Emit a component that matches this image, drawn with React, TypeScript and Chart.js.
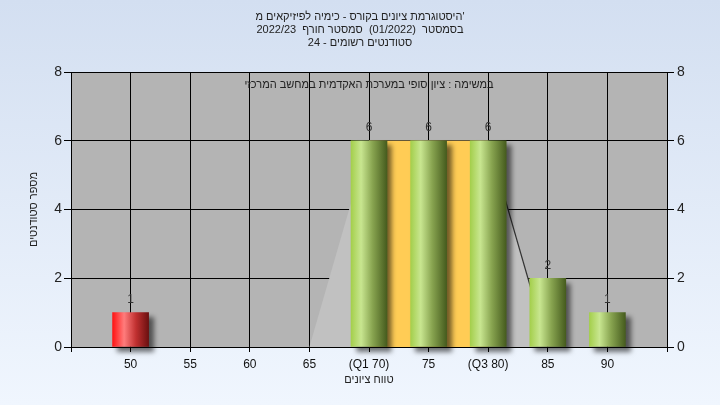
import React, { useEffect, useRef } from "react";
import { Chart, registerables } from "chart.js";

Chart.register(...registerables);

// ---- data ----
const categories = [50, 55, 60, 65, 70, 75, 80, 85, 90];
const counts = [1, 0, 0, 0, 6, 6, 6, 2, 1];
const xTickValues = [45, 50, 55, 60, 65, 70, 75, 80, 85, 90, 95];
const xTickLabels = ["", "50", "55", "60", "65", "(Q1 70)", "75", "(Q3 80)", "85", "90", ""];
const bandX = [70, 80];
const bandY = [6, 6];
const curveX = [65, 70, 80, 85];
const curveY = [0, 6, 6, 0];
const titleLines = [
  "היסטוגרמת ציונים בקורס - כימיה לפיזיקאים מ'",
  "בסמסטר  (01/2022)  סמסטר חורף  2022/23",
  "סטודנטים רשומים - 24",
];
const innerTitle = "במשימה : ציון סופי במערכת האקדמית במחשב המרכזי";
const yTitle = "מספר סטודנטים";
const xTitle = "טווח ציונים";

const FONT = "'Liberation Sans', Arial, 'DejaVu Sans', sans-serif";

export default function App() {
  const ref = useRef<HTMLCanvasElement>(null);

  useEffect(() => {
    document.body.style.margin = "0";
    document.body.style.overflow = "hidden";
    const canvas = ref.current!;

    const bgPlugin = {
      id: "bgPlugin",
      beforeDraw(chart: any) {
        const { ctx, width, height, chartArea } = chart;
        ctx.save();
        const g = ctx.createLinearGradient(0, 0, 0, height);
        g.addColorStop(0, "#d3dff1");
        g.addColorStop(1, "#f0f6fe");
        ctx.fillStyle = g;
        ctx.fillRect(0, 0, width, height);
        ctx.fillStyle = "#b4b4b4";
        ctx.fillRect(chartArea.left, chartArea.top, chartArea.right - chartArea.left, chartArea.bottom - chartArea.top);
        ctx.restore();
      },
      beforeDatasetsDraw(chart: any) {
        const { ctx, chartArea } = chart;
        ctx.save();
        ctx.font = `11px ${FONT}`;
        ctx.fillStyle = "#222";
        ctx.textAlign = "center";
        ctx.textBaseline = "middle";
        ctx.fillText(innerTitle, (chartArea.left + chartArea.right) / 2, chartArea.top + 13);
        ctx.restore();
      },
      beforeDatasetDraw(chart: any, args: any) {
        if (args.index === 0) {
          const ctx = chart.ctx;
          ctx.save();
          ctx.shadowColor = "rgba(0,0,0,0.55)";
          ctx.shadowBlur = 5;
          ctx.shadowOffsetX = 5;
          ctx.shadowOffsetY = 5;
        }
      },
      afterDatasetDraw(chart: any, args: any) {
        if (args.index === 0) chart.ctx.restore();
      },
      afterDatasetsDraw(chart: any) {
        const { ctx } = chart;
        const meta = chart.getDatasetMeta(0);
        ctx.save();
        ctx.font = `12px ${FONT}`;
        ctx.fillStyle = "#333";
        ctx.textAlign = "center";
        ctx.textBaseline = "middle";
        meta.data.forEach((el: any, i: number) => {
          if (counts[i] > 0) ctx.fillText(String(counts[i]), el.x, el.y - 13);
        });
        ctx.restore();
      },
    };

    const barColor = (c: any) => {
      const chart = c.chart;
      const xs = chart.scales && chart.scales.x;
      const v = categories[c.dataIndex];
      const red = v < 55;
      const fallback = red ? "#f22" : "#9c4";
      if (!xs || c.type !== "data" || v === undefined) return fallback;
      const px = xs.getPixelForValue(v);
      if (!isFinite(px)) return fallback;
      const g = chart.ctx.createLinearGradient(px - 18, 0, px + 18, 0);
      if (red) {
        g.addColorStop(0, "#ff1414");
        g.addColorStop(0.32, "#ff7c7c");
        g.addColorStop(0.65, "#c03030");
        g.addColorStop(1, "#6c1010");
      } else {
        g.addColorStop(0, "#a4cf4c");
        g.addColorStop(0.28, "#c8e690");
        g.addColorStop(0.6, "#88a450");
        g.addColorStop(1, "#465c1e");
      }
      return g;
    };

    const chart = new Chart(canvas, {
      type: "bar",
      data: {
        datasets: [
          {
            type: "bar",
            data: categories.map((x, i) => ({ x, y: counts[i] > 0 ? counts[i] : null })),
            backgroundColor: barColor,
            borderWidth: 0,
            barThickness: 36,
            order: 0,
            clip: false,
            yAxisID: "y",
          } as any,
          {
            type: "line",
            data: bandX.map((x, i) => ({ x, y: bandY[i] })),
            backgroundColor: "#ffcc55",
            borderWidth: 0,
            borderColor: "rgba(0,0,0,0)",
            pointRadius: 0,
            fill: "origin",
            order: 1,
            yAxisID: "y",
          } as any,
          {
            type: "line",
            data: curveX.map((x, i) => ({ x, y: curveY[i] })),
            backgroundColor: "#c1c1c1",
            borderWidth: 1.2,
            borderColor: "rgba(0,0,0,0)",
            segment: {
              borderColor: (s: any) => (s.p0.parsed.x === 80 ? "#333" : "rgba(0,0,0,0)"),
            },
            pointRadius: 0,
            fill: "origin",
            order: 2,
            yAxisID: "y",
          } as any,
        ],
      },
      options: {
        animation: false,
        responsive: false,
        maintainAspectRatio: false,
        layout: { padding: 0 },
        plugins: {
          legend: { display: false },
          tooltip: { enabled: false },
          title: {
            display: true,
            text: titleLines,
            color: "#222",
            font: { family: FONT, size: 11, weight: "normal", lineHeight: "13px" } as any,
            padding: { top: 10, bottom: 23 },
          },
        },
        scales: {
          x: {
            type: "linear",
            min: 45,
            max: 95,
            offset: false,
            afterBuildTicks: (s: any) => {
              s.ticks = xTickValues.map((v) => ({ value: v }));
            },
            afterFit: (s: any) => {
              s.height = 58;
            },
            ticks: {
              autoSkip: false,
              maxRotation: 0,
              padding: 5,
              color: "#111",
              font: { family: FONT, size: 12 },
              callback: (v: any) => {
                const i = xTickValues.indexOf(Number(v));
                return i >= 0 ? xTickLabels[i] : "";
              },
            },
            grid: { color: "#000", lineWidth: 1, tickLength: 5, offset: false },
            border: { color: "#000", z: 1 } as any,
            title: {
              display: true,
              text: xTitle,
              color: "#222",
              font: { family: FONT, size: 11 },
              padding: { top: 0, bottom: 18 },
            },
          },
          y: {
            position: "left",
            min: 0,
            max: 8,
            afterFit: (s: any) => {
              s.width = 71;
            },
            ticks: { stepSize: 2, padding: 2, color: "#222", font: { family: FONT, size: 14 } },
            grid: { color: "#000", lineWidth: 1, tickLength: 7 },
            border: { color: "#000" },
            title: {
              display: true,
              text: yTitle,
              color: "#222",
              font: { family: FONT, size: 11 },
              padding: { top: 27, bottom: 0 },
            },
          },
          y2: {
            position: "right",
            min: 0,
            max: 8,
            afterFit: (s: any) => {
              s.width = 53;
            },
            ticks: { stepSize: 2, padding: 3, color: "#222", font: { family: FONT, size: 14 } },
            grid: { color: "#000", lineWidth: 1, tickLength: 7, drawOnChartArea: false },
            border: { color: "#000" },
          },
        },
      } as any,
      plugins: [bgPlugin],
    });

    return () => chart.destroy();
  }, []);

  return (
    <div style={{ width: 720, height: 405 }}>
      <canvas ref={ref} width={720} height={405} style={{ display: "block", width: 720, height: 405 }} />
    </div>
  );
}
